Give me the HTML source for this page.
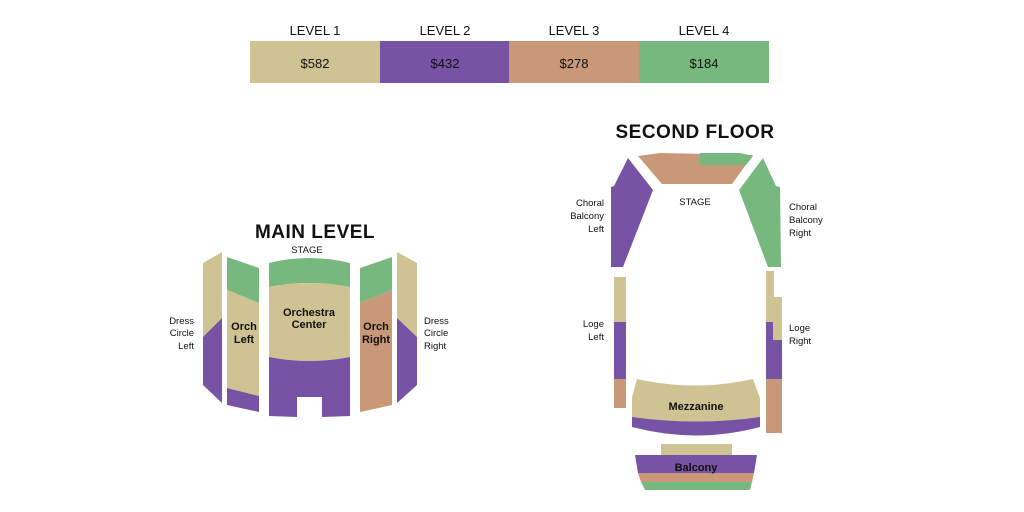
<!DOCTYPE html>
<html><head><meta charset="utf-8"><style>
html,body{margin:0;padding:0;background:#fff;}
svg{display:block;}
text{font-family:"Liberation Sans",sans-serif;fill:#111;}
</style></head><body>
<svg width="1024" height="512" viewBox="0 0 1024 512" xmlns="http://www.w3.org/2000/svg">
<!-- legend -->
<rect x="250" y="41" width="130" height="42" fill="#cfc393"/>
<rect x="380" y="41" width="129" height="42" fill="#7752a5"/>
<rect x="509" y="41" width="130" height="42" fill="#c99878"/>
<rect x="639" y="41" width="130" height="42" fill="#77b87f"/>
<g font-size="13" text-anchor="middle">
<text x="315" y="35">LEVEL 1</text><text x="445" y="35">LEVEL 2</text><text x="574" y="35">LEVEL 3</text><text x="704" y="35">LEVEL 4</text>
<text x="315" y="68">$582</text><text x="445" y="68">$432</text><text x="574" y="68">$278</text><text x="704" y="68">$184</text>
</g>
<!-- MAIN LEVEL -->
<text x="315" y="238" font-size="19" font-weight="bold" text-anchor="middle" letter-spacing="0.5">MAIN LEVEL</text>
<text x="307" y="253" font-size="9.5" text-anchor="middle">STAGE</text>
<!-- dress circle left -->
<polygon points="203,263 222,252 222,318 203,337" fill="#cfc393"/>
<polygon points="203,337 222,318 222,403 203,385" fill="#7752a5"/>
<!-- orch left -->
<polygon points="227,257 259,268 259,303 227,290" fill="#77b87f"/>
<polygon points="227,290 259,303 259,396 227,388" fill="#cfc393"/>
<polygon points="227,388 259,396 259,412 227,405" fill="#7752a5"/>
<!-- orch center -->
<path d="M269,263 Q309,253 350,263 L350,287 Q309,279 269,287 Z" fill="#77b87f"/>
<path d="M269,287 Q309,279 350,287 L350,357 Q309,365 269,357 Z" fill="#cfc393"/>
<path d="M269,357 Q309,365 350,357 L350,416 L322,417 L322,397 L297,397 L297,417 L269,416 Z" fill="#7752a5"/>
<!-- orch right -->
<polygon points="360,268 392,257 392,290 360,303" fill="#77b87f"/>
<polygon points="360,303 392,290 392,405 360,412" fill="#c99878"/>
<!-- dress circle right -->
<polygon points="397,252 417,263 417,337 397,318" fill="#cfc393"/>
<polygon points="397,318 417,337 417,385 397,403" fill="#7752a5"/>
<g font-size="11" font-weight="bold" text-anchor="middle">
<text x="244" y="330">Orch</text><text x="244" y="343">Left</text>
<text x="309" y="316">Orchestra</text><text x="309" y="328">Center</text>
<text x="376" y="330">Orch</text><text x="376" y="343">Right</text>
</g>
<g font-size="9.5">
<text x="194" y="324" text-anchor="end">Dress</text><text x="194" y="336" text-anchor="end">Circle</text><text x="194" y="349" text-anchor="end">Left</text>
<text x="424" y="324">Dress</text><text x="424" y="336">Circle</text><text x="424" y="349">Right</text>
</g>
<!-- SECOND FLOOR -->
<text x="695" y="138" font-size="19" font-weight="bold" text-anchor="middle" letter-spacing="0.5">SECOND FLOOR</text>
<text x="695" y="205" font-size="9.5" text-anchor="middle">STAGE</text>
<polygon points="638,156 660,153 753,155 732,184 662,184" fill="#c99878"/>
<polygon points="700,153 740,153 753,156 746,165 700,165" fill="#77b87f"/>
<polygon points="628,158 653,190 623,267 611,267 611,187 614,186" fill="#7752a5"/>
<polygon points="763,158 776,186 780,187 781,267 768,267 739,190" fill="#77b87f"/>
<!-- loge left -->
<rect x="614" y="277" width="12" height="45" fill="#cfc393"/>
<rect x="614" y="322" width="12" height="57" fill="#7752a5"/>
<rect x="614" y="379" width="12" height="29" fill="#c99878"/>
<!-- loge right -->
<polygon points="766,271 774,271 774,297 782,297 782,340 773,340 773,322 766,322" fill="#cfc393"/>
<polygon points="766,322 773,322 773,340 782,340 782,379 766,379" fill="#7752a5"/>
<rect x="766" y="379" width="16" height="54" fill="#c99878"/>
<!-- mezzanine -->
<path d="M637,379 Q695,392 753,379 L760,398 L760,417 Q696,426 632,417 L632,397 Z" fill="#cfc393"/>
<path d="M632,417 Q696,426 760,417 L760,427 Q696,444 632,427 Z" fill="#7752a5"/>
<text x="696" y="410" font-size="11" font-weight="bold" text-anchor="middle">Mezzanine</text>
<!-- balcony -->
<polygon points="661,444 732,444 732,457 661,457" fill="#cfc393"/>
<polygon points="635,455 757,455 754,473 638,473" fill="#7752a5"/>
<polygon points="638,473 754,473 752,482 641,482" fill="#c99878"/>
<polygon points="641,482 752,482 750,490 645,490" fill="#77b87f"/>
<text x="696" y="471" font-size="11" font-weight="bold" text-anchor="middle">Balcony</text>
<g font-size="9.5">
<text x="604" y="206" text-anchor="end">Choral</text><text x="604" y="219" text-anchor="end">Balcony</text><text x="604" y="232" text-anchor="end">Left</text>
<text x="789" y="210">Choral</text><text x="789" y="223">Balcony</text><text x="789" y="236">Right</text>
<text x="604" y="327" text-anchor="end">Loge</text><text x="604" y="340" text-anchor="end">Left</text>
<text x="789" y="331">Loge</text><text x="789" y="344">Right</text>
</g>
</svg>
</body></html>
